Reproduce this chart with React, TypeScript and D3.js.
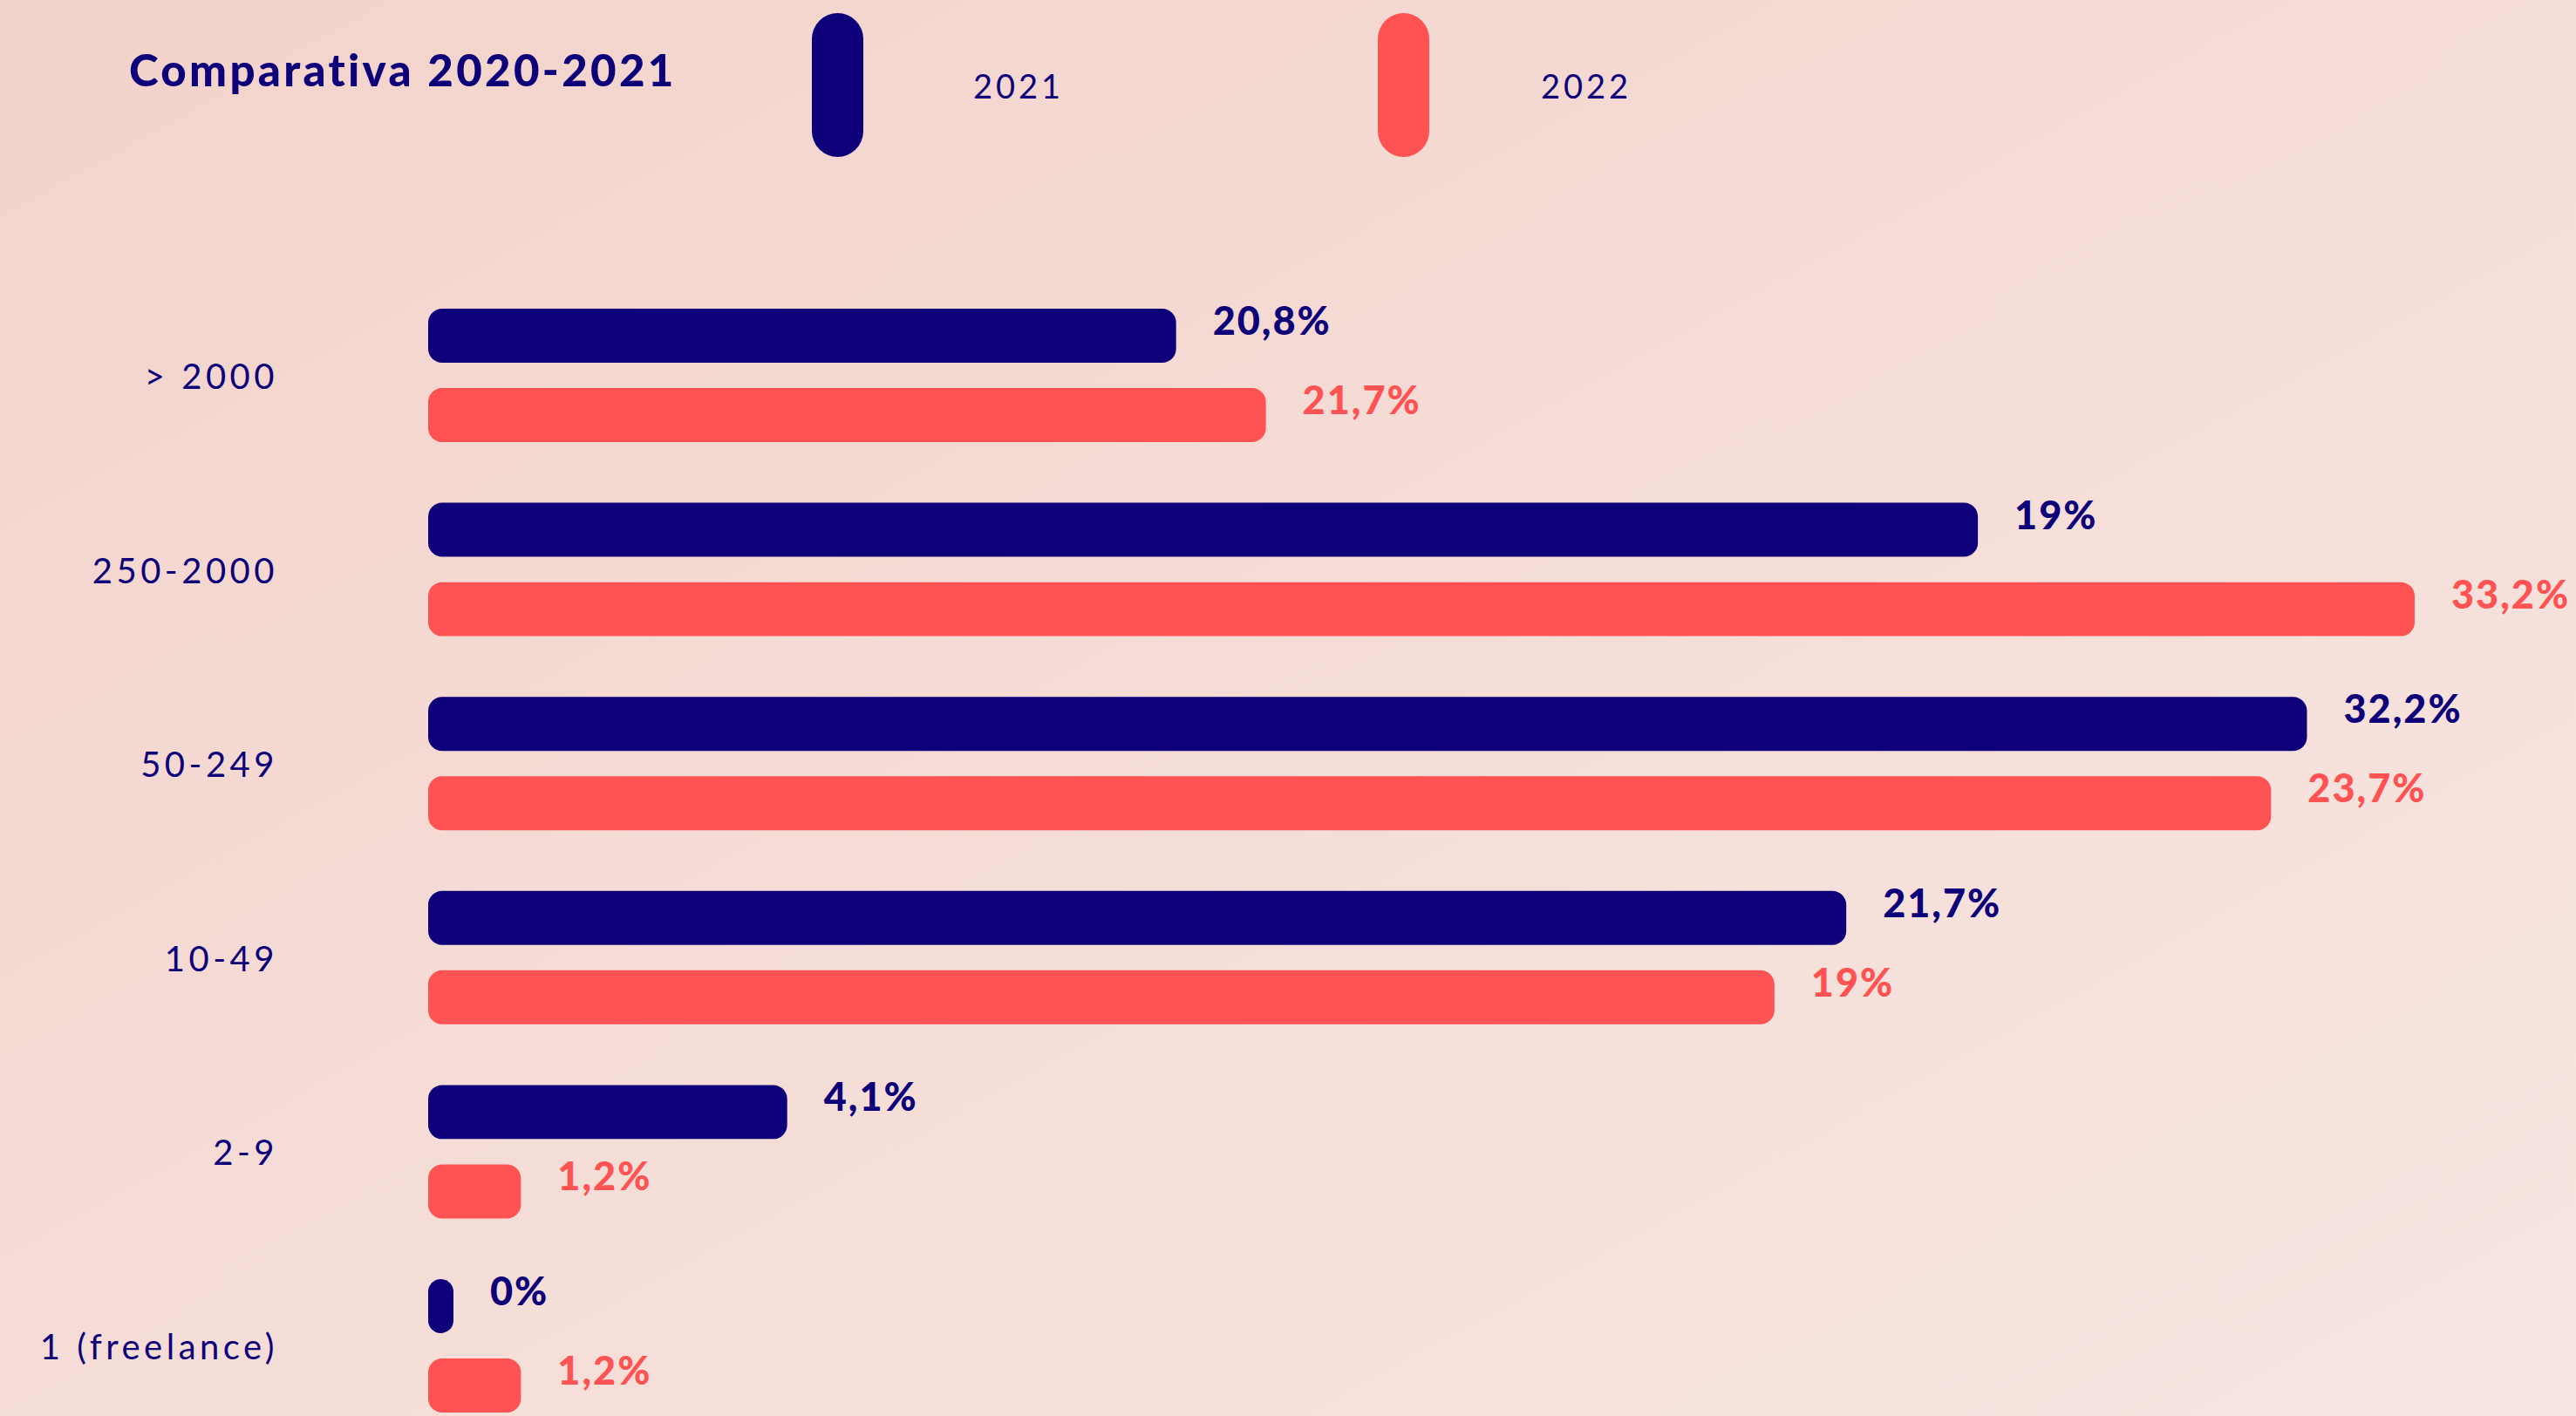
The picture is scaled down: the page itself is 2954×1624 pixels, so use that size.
import { useEffect, useRef } from 'react';
import * as d3 from 'd3';

// company size categories, top to bottom
const categories = ['> 2000', '250-2000', '50-249', '10-49', '2-9', '1 (freelance)'];
const seriesNames = ['2021', '2022'];

// printed percentages
const pct2021 = [20.8, 19, 32.2, 21.7, 4.1, 0];
const pct2022 = [21.7, 33.2, 23.7, 19, 1.2, 1.2];

// bar lengths as drawn in the source (they are not to scale with the printed labels)
const len2021 = [12.5, 25.9, 31.4, 23.7, 6.0, 0];
const len2022 = [14.0, 33.2, 30.8, 22.5, 1.55, 1.55];

const NAVY = '#0e0079';
const RED = '#ff5252';
const FONT = 'Lato, "Noto Sans", sans-serif';

export default function App() {
  const svgRef = useRef<SVGSVGElement>(null);
  const width = 2954;
  const height = 1624;

  useEffect(() => {
    if (!svgRef.current) return;
    const svg = d3.select(svgRef.current);
    svg.selectAll('*').remove();

    // background gradient
    const defs = svg.append('defs');
    const bg = defs.append('linearGradient')
      .attr('id', 'bg')
      .attr('x1', '0%').attr('y1', '0%')
      .attr('x2', '100%').attr('y2', '100%');
    bg.append('stop').attr('offset', '0%').attr('stop-color', '#f2d3cb');
    bg.append('stop').attr('offset', '100%').attr('stop-color', '#f8e6e2');
    svg.append('rect').attr('width', width).attr('height', height).attr('fill', 'url(#bg)');

    // title
    svg.append('text')
      .attr('x', 148).attr('y', 99)
      .style('font-family', FONT)
      .style('font-weight', 900)
      .style('font-size', '51px')
      .style('letter-spacing', '3.3px')
      .style('fill', NAVY)
      .text('Comparativa 2020-2021');

    // legend
    const legendX = [931, 1580];
    const legendTextX = [1116, 1767];
    const colors = [NAVY, RED];
    seriesNames.forEach((name, i) => {
      svg.append('rect')
        .attr('x', legendX[i]).attr('y', 15)
        .attr('width', 59).attr('height', 165)
        .attr('rx', 29.5)
        .attr('fill', colors[i]);
      svg.append('text')
        .attr('x', legendTextX[i]).attr('y', 113)
        .style('font-family', FONT)
        .style('font-size', '38px')
        .style('letter-spacing', '4px')
        .style('fill', NAVY)
        .text(name);
    });

    // scales
    const y0 = d3.scaleBand<string>()
      .domain(categories)
      .range([354, 354 + 222.6 * categories.length])
      .padding(0);
    const y1 = d3.scaleBand<string>()
      .domain(seriesNames)
      .range([0, 153])
      .paddingInner(0.32);
    const x = d3.scaleLinear().domain([0, 33.2]).range([491, 2769]);

    const fmt = (v: number) => String(v).replace('.', ',') + '%';

    const rows = categories.flatMap((c, i) => [
      { cat: c, series: '2021', pct: pct2021[i], len: len2021[i], color: NAVY },
      { cat: c, series: '2022', pct: pct2022[i], len: len2022[i], color: RED },
    ]);

    const g = svg.append('g');

    // category labels
    g.selectAll('.cat')
      .data(categories)
      .enter().append('text')
      .attr('class', 'cat')
      .attr('x', 319)
      .attr('y', d => (y0(d) || 0) + 76 + 16)
      .attr('text-anchor', 'end')
      .style('font-family', FONT)
      .style('font-size', '40px')
      .style('letter-spacing', '4.5px')
      .style('fill', NAVY)
      .text(d => d);

    // bars
    const barW = (d: { len: number }) => Math.max(x(d.len) - x(0), 29);
    g.selectAll('.bar')
      .data(rows)
      .enter().append('rect')
      .attr('class', 'bar')
      .attr('x', x(0))
      .attr('y', d => (y0(d.cat) || 0) + (y1(d.series) || 0))
      .attr('width', barW)
      .attr('height', y1.bandwidth())
      .attr('rx', d => Math.min(16, barW(d) / 2))
      .attr('fill', d => d.color);

    // value labels
    g.selectAll('.value')
      .data(rows)
      .enter().append('text')
      .attr('class', 'value')
      .attr('x', d => x(0) + barW(d) + 42)
      .attr('y', d => (y0(d.cat) || 0) + (y1(d.series) || 0) + 30)
      .style('font-family', FONT)
      .style('font-weight', 900)
      .style('font-size', '45px')
      .style('letter-spacing', '2px')
      .style('fill', d => d.color)
      .text(d => fmt(d.pct));
  }, []);

  return (
    <div style={{ position: 'absolute', left: 0, top: 0, width, height, overflow: 'hidden' }}>
      <svg ref={svgRef} width={width} height={height}></svg>
    </div>
  );
}
